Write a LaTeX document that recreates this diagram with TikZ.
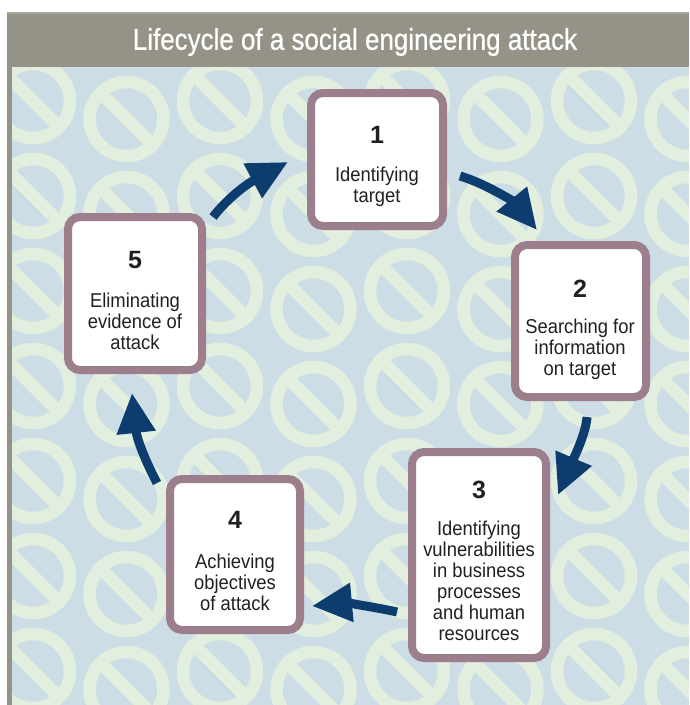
\documentclass[tikz,border=0pt]{standalone}
\usepackage{fontspec}
\setmainfont{Liberation Sans}
\newfontfamily\labelfont[FakeStretch=0.92]{Liberation Sans}
\newfontfamily\titlefont[FakeStretch=0.865,FakeBold=0.8]{Liberation Sans}
\usetikzlibrary{arrows.meta}

\definecolor{patternbg}{HTML}{CCDDE6}
\definecolor{ringgreen}{HTML}{E2EFDE}
\definecolor{framegray}{HTML}{959387}
\definecolor{framerim}{HTML}{A9A89C}
\definecolor{boxedge}{HTML}{9C7E8D}
\definecolor{arrowblue}{HTML}{0C3D6E}
\definecolor{inkdark}{HTML}{231F20}

\tikzset{
  stagebox/.style={draw=boxedge, line width=8pt, fill=white, rounded corners=12pt, inner sep=0pt},
  stagenum/.style={text=inkdark, inner sep=0pt, font=\bfseries\fontsize{25}{25}\selectfont},
  stagetext/.style={text=inkdark, inner sep=0pt, align=center, font=\labelfont\fontsize{20}{21}\selectfont},
  cyclearrow/.style={draw=arrowblue, line width=9pt, -{Triangle[width=37pt,length=40pt]}},
  noring/.style={draw=ringgreen, line width=12.5pt},
}

\begin{document}
\begin{tikzpicture}[x=1pt, y=-1pt]
  % page and frame
  \useasboundingbox (0,0) rectangle (689,705);
  \fill[white] (0,0) rectangle (689,705);
  \fill[framegray] (7,12) rectangle (689,67);
  \fill[framerim] (7,12) rectangle (689,14);
  \fill[framegray] (7,67) rectangle (12,705);

  % patterned field of "no" signs
  \begin{scope}
    \clip (12,67) rectangle (689,705);
    \fill[patternbg] (12,67) rectangle (689,705);
    \foreach \i in {0,...,7} {
      \pgfmathsetmacro\cx{33+93.5*\i}
      \pgfmathsetmacro\cy{isodd(\i) ? 119 : 101}
      \foreach \j in {-1,...,6} {
        \draw[noring] (\cx, \cy+95*\j) circle[radius=37];
        \draw[noring] (\cx-26.2, \cy+95*\j-26.2) -- (\cx+26.2, \cy+95*\j+26.2);
      }
    }
  \end{scope}

  % title
  \node[text=white, font=\titlefont\fontsize{30}{30}\selectfont] (title) at (355,42) {Lifecycle of a social engineering attack};

  % stage boxes
  \node[stagebox, minimum width=132pt, minimum height=133pt] (b1) at (377,159.5) {};
  \node[stagebox, minimum width=131pt, minimum height=152pt] (b2) at (580.5,321) {};
  \node[stagebox, minimum width=134pt, minimum height=206pt] (b3) at (479,555) {};
  \node[stagebox, minimum width=130pt, minimum height=151pt] (b4) at (235,554.5) {};
  \node[stagebox, minimum width=134pt, minimum height=153pt] (b5) at (135,293.5) {};

  % numbers
  \node[stagenum] (n1) at (377,135) {1};
  \node[stagenum] (n2) at (580,289) {2};
  \node[stagenum] (n3) at (479,490) {3};
  \node[stagenum] (n4) at (235,520) {4};
  \node[stagenum] (n5) at (135,260) {5};

  % descriptions
  \node[stagetext] (t1) at (377,186.5) {Identifying\\target};
  \node[stagetext] (t2) at (580,349) {Searching for\\information\\on target};
  \node[stagetext] (t3) at (479,580.5) {Identifying\\vulnerabilities\\in business\\processes\\and human\\resources};
  \node[stagetext] (t4) at (235,582) {Achieving\\objectives\\of attack};
  \node[stagetext] (t5) at (135,321) {Eliminating\\evidence of\\attack};

  % arrow ends
  \coordinate (a1s) at (460,176);  \coordinate (a1e) at (537,230);
  \coordinate (a2s) at (587,417);  \coordinate (a2e) at (558,495);
  \coordinate (a3s) at (397,612);  \coordinate (a3e) at (312,606);
  \coordinate (a4s) at (157,483);  \coordinate (a4e) at (132,393);
  \coordinate (a5s) at (213,217);  \coordinate (a5e) at (288,162);

  % cycle arrows
  \draw[cyclearrow] (a1s) .. controls (487,184) and (515,203) .. (a1e);
  \draw[cyclearrow] (a2s) .. controls (586,434) and (572,462) .. (a2e);
  \draw[cyclearrow] (a3s) .. controls (375,607) and (345,603) .. (a3e);
  \draw[cyclearrow] (a4s) .. controls (146,462) and (137,440) .. (a4e);
  \draw[cyclearrow] (a5s) .. controls (226,200) and (245,185) .. (a5e);
\end{tikzpicture}
\end{document}
